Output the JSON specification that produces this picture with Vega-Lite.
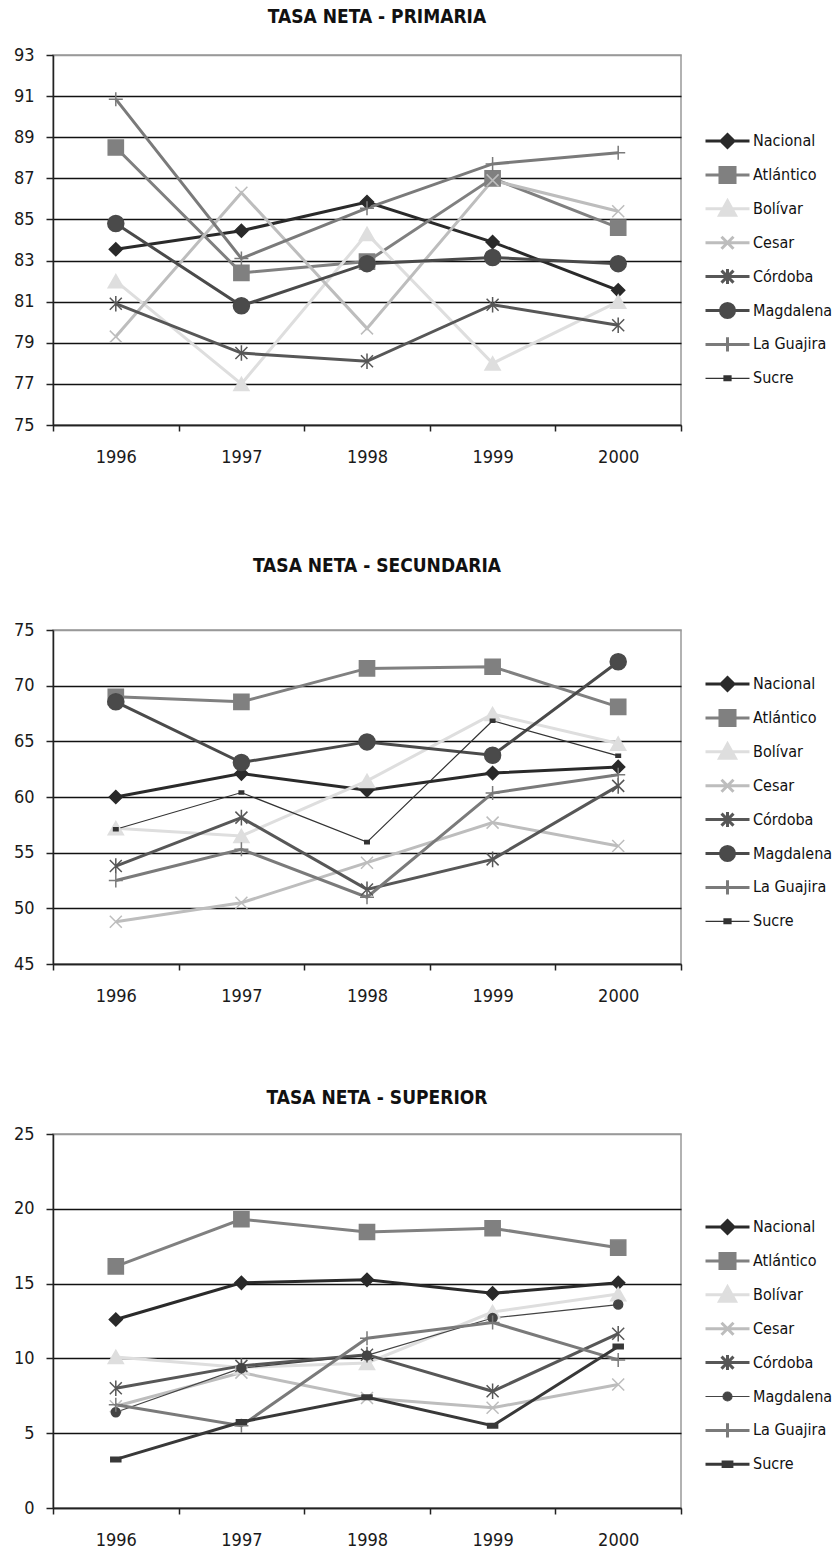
{
  "$schema": "https://vega.github.io/schema/vega-lite/v6.json",
  "background": "white",
  "padding": {"left": 12, "top": 7, "right": 0, "bottom": 0},
  "config": {
    "font": "Liberation Sans Narrow, DejaVu Sans Condensed, sans-serif",
    "view": {"stroke": "#999999", "strokeWidth": 1.5},
    "title": {"font": "Liberation Sans Narrow, DejaVu Sans Condensed, sans-serif", "fontSize": 19, "fontWeight": "bold", "color": "#111111", "anchor": "middle", "dx": 10},
    "axis": {"labelFont": "Liberation Sans Narrow, DejaVu Sans Condensed, sans-serif", "labelFontSize": 18, "labelColor": "#1a1a1a", "domainColor": "#222222", "domainWidth": 1.5, "tickColor": "#222222", "tickWidth": 1.5, "title": null},
    "axisX": {"grid": false, "tickSize": 6, "labelPadding": 17, "labelAngle": 0, "tickBand": "extent"},
    "axisY": {"tickSize": 7, "labelPadding": 12, "gridWidth": 1.3},
    "legend": {"padding": 0, "labelFont": "Liberation Sans Narrow, DejaVu Sans Condensed, sans-serif", "labelFontSize": 16, "labelColor": "#111111", "symbolSize": 256, "symbolOpacity": 1, "labelOffset": 30, "rowPadding": 11.9, "clipHeight": 22}
  },
  "datasets": {
    "primaria": [
      {"serie": "Nacional", "anio": "1996", "valor": 83.55}, {"serie": "Nacional", "anio": "1997", "valor": 84.45}, {"serie": "Nacional", "anio": "1998", "valor": 85.85}, {"serie": "Nacional", "anio": "1999", "valor": 83.9}, {"serie": "Nacional", "anio": "2000", "valor": 81.55},
      {"serie": "Atlántico", "anio": "1996", "valor": 88.5}, {"serie": "Atlántico", "anio": "1997", "valor": 82.4}, {"serie": "Atlántico", "anio": "1998", "valor": 82.95}, {"serie": "Atlántico", "anio": "1999", "valor": 87.0}, {"serie": "Atlántico", "anio": "2000", "valor": 84.6},
      {"serie": "Bolívar", "anio": "1996", "valor": 82.0}, {"serie": "Bolívar", "anio": "1997", "valor": 77.0}, {"serie": "Bolívar", "anio": "1998", "valor": 84.3}, {"serie": "Bolívar", "anio": "1999", "valor": 78.0}, {"serie": "Bolívar", "anio": "2000", "valor": 81.0},
      {"serie": "Cesar", "anio": "1996", "valor": 79.3}, {"serie": "Cesar", "anio": "1997", "valor": 86.3}, {"serie": "Cesar", "anio": "1998", "valor": 79.7}, {"serie": "Cesar", "anio": "1999", "valor": 86.9}, {"serie": "Cesar", "anio": "2000", "valor": 85.4},
      {"serie": "Córdoba", "anio": "1996", "valor": 80.9}, {"serie": "Córdoba", "anio": "1997", "valor": 78.5}, {"serie": "Córdoba", "anio": "1998", "valor": 78.1}, {"serie": "Córdoba", "anio": "1999", "valor": 80.85}, {"serie": "Córdoba", "anio": "2000", "valor": 79.85},
      {"serie": "Magdalena", "anio": "1996", "valor": 84.8}, {"serie": "Magdalena", "anio": "1997", "valor": 80.8}, {"serie": "Magdalena", "anio": "1998", "valor": 82.85}, {"serie": "Magdalena", "anio": "1999", "valor": 83.15}, {"serie": "Magdalena", "anio": "2000", "valor": 82.85},
      {"serie": "La Guajira", "anio": "1996", "valor": 90.85}, {"serie": "La Guajira", "anio": "1997", "valor": 83.1}, {"serie": "La Guajira", "anio": "1998", "valor": 85.55}, {"serie": "La Guajira", "anio": "1999", "valor": 87.7}, {"serie": "La Guajira", "anio": "2000", "valor": 88.25}
    ],
    "secundaria": [
      {"serie": "Nacional", "anio": "1996", "valor": 60.0}, {"serie": "Nacional", "anio": "1997", "valor": 62.1}, {"serie": "Nacional", "anio": "1998", "valor": 60.6}, {"serie": "Nacional", "anio": "1999", "valor": 62.15}, {"serie": "Nacional", "anio": "2000", "valor": 62.7},
      {"serie": "Atlántico", "anio": "1996", "valor": 69.0}, {"serie": "Atlántico", "anio": "1997", "valor": 68.55}, {"serie": "Atlántico", "anio": "1998", "valor": 71.55}, {"serie": "Atlántico", "anio": "1999", "valor": 71.7}, {"serie": "Atlántico", "anio": "2000", "valor": 68.1},
      {"serie": "Bolívar", "anio": "1996", "valor": 57.2}, {"serie": "Bolívar", "anio": "1997", "valor": 56.5}, {"serie": "Bolívar", "anio": "1998", "valor": 61.45}, {"serie": "Bolívar", "anio": "1999", "valor": 67.45}, {"serie": "Bolívar", "anio": "2000", "valor": 64.8},
      {"serie": "Cesar", "anio": "1996", "valor": 48.8}, {"serie": "Cesar", "anio": "1997", "valor": 50.5}, {"serie": "Cesar", "anio": "1998", "valor": 54.1}, {"serie": "Cesar", "anio": "1999", "valor": 57.7}, {"serie": "Cesar", "anio": "2000", "valor": 55.6},
      {"serie": "Córdoba", "anio": "1996", "valor": 53.8}, {"serie": "Córdoba", "anio": "1997", "valor": 58.15}, {"serie": "Córdoba", "anio": "1998", "valor": 51.7}, {"serie": "Córdoba", "anio": "1999", "valor": 54.4}, {"serie": "Córdoba", "anio": "2000", "valor": 61.0},
      {"serie": "Magdalena", "anio": "1996", "valor": 68.55}, {"serie": "Magdalena", "anio": "1997", "valor": 63.1}, {"serie": "Magdalena", "anio": "1998", "valor": 64.95}, {"serie": "Magdalena", "anio": "1999", "valor": 63.75}, {"serie": "Magdalena", "anio": "2000", "valor": 72.15},
      {"serie": "La Guajira", "anio": "1996", "valor": 52.5}, {"serie": "La Guajira", "anio": "1997", "valor": 55.3}, {"serie": "La Guajira", "anio": "1998", "valor": 51.0}, {"serie": "La Guajira", "anio": "1999", "valor": 60.35}, {"serie": "La Guajira", "anio": "2000", "valor": 62.0},
      {"serie": "Sucre", "anio": "1996", "valor": 57.1}, {"serie": "Sucre", "anio": "1997", "valor": 60.4}, {"serie": "Sucre", "anio": "1998", "valor": 55.95}, {"serie": "Sucre", "anio": "1999", "valor": 66.85}, {"serie": "Sucre", "anio": "2000", "valor": 63.7}
    ],
    "superior": [
      {"serie": "Nacional", "anio": "1996", "valor": 12.6}, {"serie": "Nacional", "anio": "1997", "valor": 15.05}, {"serie": "Nacional", "anio": "1998", "valor": 15.25}, {"serie": "Nacional", "anio": "1999", "valor": 14.35}, {"serie": "Nacional", "anio": "2000", "valor": 15.05},
      {"serie": "Atlántico", "anio": "1996", "valor": 16.15}, {"serie": "Atlántico", "anio": "1997", "valor": 19.3}, {"serie": "Atlántico", "anio": "1998", "valor": 18.45}, {"serie": "Atlántico", "anio": "1999", "valor": 18.7}, {"serie": "Atlántico", "anio": "2000", "valor": 17.4},
      {"serie": "Bolívar", "anio": "1996", "valor": 10.1}, {"serie": "Bolívar", "anio": "1997", "valor": 9.4}, {"serie": "Bolívar", "anio": "1998", "valor": 9.7}, {"serie": "Bolívar", "anio": "1999", "valor": 13.1}, {"serie": "Bolívar", "anio": "2000", "valor": 14.3},
      {"serie": "Cesar", "anio": "1996", "valor": 6.8}, {"serie": "Cesar", "anio": "1997", "valor": 9.05}, {"serie": "Cesar", "anio": "1998", "valor": 7.35}, {"serie": "Cesar", "anio": "1999", "valor": 6.7}, {"serie": "Cesar", "anio": "2000", "valor": 8.25},
      {"serie": "Córdoba", "anio": "1996", "valor": 8.0}, {"serie": "Córdoba", "anio": "1997", "valor": 9.5}, {"serie": "Córdoba", "anio": "1998", "valor": 10.25}, {"serie": "Córdoba", "anio": "1999", "valor": 7.8}, {"serie": "Córdoba", "anio": "2000", "valor": 11.65},
      {"serie": "Magdalena", "anio": "1996", "valor": 6.4}, {"serie": "Magdalena", "anio": "1997", "valor": 9.35}, {"serie": "Magdalena", "anio": "1998", "valor": 10.2}, {"serie": "Magdalena", "anio": "1999", "valor": 12.7}, {"serie": "Magdalena", "anio": "2000", "valor": 13.6},
      {"serie": "La Guajira", "anio": "1996", "valor": 6.9}, {"serie": "La Guajira", "anio": "1997", "valor": 5.5}, {"serie": "La Guajira", "anio": "1998", "valor": 11.35}, {"serie": "La Guajira", "anio": "1999", "valor": 12.4}, {"serie": "La Guajira", "anio": "2000", "valor": 9.9},
      {"serie": "Sucre", "anio": "1996", "valor": 3.25}, {"serie": "Sucre", "anio": "1997", "valor": 5.75}, {"serie": "Sucre", "anio": "1998", "valor": 7.4}, {"serie": "Sucre", "anio": "1999", "valor": 5.5}, {"serie": "Sucre", "anio": "2000", "valor": 10.8}
    ]
  },
  "spacing": 82,
  "resolve": {"scale": {"color": "independent", "shape": "independent", "size": "independent", "stroke": "independent", "strokeWidth": "independent", "x": "independent", "y": "independent"}, "legend": {"color": "independent", "shape": "independent", "size": "independent", "stroke": "independent", "strokeWidth": "independent"}},
  "vconcat": [
    {
      "spacing": 89,
      "resolve": {"scale": {"color": "independent", "shape": "independent", "size": "independent", "stroke": "independent", "strokeWidth": "independent", "x": "independent", "y": "independent"}, "legend": {"color": "independent", "shape": "independent", "size": "independent", "stroke": "independent", "strokeWidth": "independent"}},
      "vconcat": [
        {
          "title": {"text": "TASA NETA - PRIMARIA", "offset": 19},
          "width": 628, "height": 370,
          "data": {"name": "primaria"},
          "resolve": {"scale": {"color": "independent", "shape": "independent", "size": "independent", "stroke": "independent", "strokeWidth": "independent"}},
          "encoding": {
            "x": {"field": "anio", "type": "ordinal", "bandPosition": 0.5, "scale": {"type": "band", "paddingInner": 0, "paddingOuter": 0, "domain": ["1996", "1997", "1998", "1999", "2000"]}},
            "y": {"field": "valor", "type": "quantitative", "scale": {"domain": [75, 93], "nice": false, "zero": false}, "axis": {"values": [75, 77, 79, 81, 83, 85, 87, 89, 91, 93], "gridColor": {"condition": {"test": "datum.value === 93", "value": "#999999"}, "value": "#111111"}}}
          },
          "layer": [
            {"mark": {"type": "line"}, "encoding": {
              "color": {"field": "serie", "type": "nominal", "legend": null, "scale": {"domain": ["Nacional", "Atlántico", "Bolívar", "Cesar", "Córdoba", "Magdalena", "La Guajira", "Sucre"], "range": ["#2a2a2a", "#808080", "#dedede", "#bdbdbd", "#575757", "#4a4a4a", "#7a7a7a", "#333333"]}},
              "strokeWidth": {"field": "serie", "type": "nominal", "legend": null, "scale": {"type": "ordinal", "domain": ["Nacional", "Atlántico", "Bolívar", "Cesar", "Córdoba", "Magdalena", "La Guajira", "Sucre"], "range": [3, 3, 3, 3, 3, 3, 3, 1.2]}}}},
            {"mark": {"type": "point", "filled": true, "opacity": 1, "strokeWidth": 1.5},
             "encoding": {
               "color": {"field": "serie", "type": "nominal", "legend": null, "scale": {"domain": ["Nacional", "Atlántico", "Bolívar", "Cesar", "Córdoba", "Magdalena", "La Guajira", "Sucre"], "range": ["#2a2a2a", "#808080", "#dedede", "#bdbdbd", "#575757", "#4a4a4a", "#7a7a7a", "#333333"]}},
               "stroke": {"field": "serie", "type": "nominal", "legend": null, "scale": {"domain": ["Nacional", "Atlántico", "Bolívar", "Cesar", "Córdoba", "Magdalena", "La Guajira", "Sucre"], "range": ["#2a2a2a", "#808080", "#dedede", "#bdbdbd", "#575757", "#4a4a4a", "#7a7a7a", "#333333"]}},
               "size": {"field": "serie", "type": "nominal", "legend": null, "scale": {"type": "ordinal", "domain": ["Nacional", "Atlántico", "Bolívar", "Cesar", "Córdoba", "Magdalena", "La Guajira", "Sucre"], "range": [170, 230, 230, 144, 144, 256, 196, 20]}},
               "shape": {"field": "serie", "type": "nominal", "legend": null,
                 "scale": {"domain": ["Nacional", "Atlántico", "Bolívar", "Cesar", "Córdoba", "Magdalena", "La Guajira", "Sucre"], "range": ["diamond", "square", "triangle-up", "M-1,-1L1,1M-1,1L1,-1", "M-1,-1L1,1M-1,1L1,-1M0,-1.3V1.3", "circle", "M-1,0H1M0,-1V1", "M-1,-0.7H1V0.7H-1Z"]}}
             }
            },
            {"mark": {"type": "point", "filled": true, "opacity": 0},
             "encoding": {
               "color": {"field": "serie", "type": "nominal", "legend": {"title": null}, "scale": {"domain": ["Nacional", "Atlántico", "Bolívar", "Cesar", "Córdoba", "Magdalena", "La Guajira", "Sucre"], "range": ["#2a2a2a", "#808080", "#dedede", "transparent", "transparent", "#4a4a4a", "transparent", "#333333"]}},
               "stroke": {"field": "serie", "type": "nominal", "legend": {"title": null}, "scale": {"domain": ["Nacional", "Atlántico", "Bolívar", "Cesar", "Córdoba", "Magdalena", "La Guajira", "Sucre"], "range": ["#2a2a2a", "#808080", "#dedede", "#bdbdbd", "#575757", "#4a4a4a", "#7a7a7a", "#333333"]}},
               "strokeWidth": {"field": "serie", "type": "nominal", "legend": {"title": null}, "scale": {"type": "ordinal", "domain": ["Nacional", "Atlántico", "Bolívar", "Cesar", "Córdoba", "Magdalena", "La Guajira", "Sucre"], "range": [3, 3, 3, 3, 3, 3, 3, 1.2]}},
               "shape": {"field": "serie", "type": "nominal",
                 "scale": {"domain": ["Nacional", "Atlántico", "Bolívar", "Cesar", "Córdoba", "Magdalena", "La Guajira", "Sucre"], "range": ["M-1,0H4.5M0.94,0L1.75,-0.81L2.56,0L1.75,0.81Z", "M-1,0H4.5M0.81,-0.94H2.69V0.94H0.81Z", "M-1,0H4.5M1.75,-1L2.75,0.82H0.75Z", "M-1,0H4.5M1,-0.75L2.5,0.75M1,0.75L2.5,-0.75", "M-1,0H4.5M1,-0.75L2.5,0.75M1,0.75L2.5,-0.75M1.75,-0.94V0.94", "M-1,0H4.5M2.63,0A0.88,0.88,0,1,1,0.87,0A0.88,0.88,0,1,1,2.63,0Z", "M-1,0H4.5M1.75,-0.88V0.88", "M-1,0H4.5M1.31,-0.3H2.19V0.3H1.31Z"]},
                 "legend": {"orient": "none", "legendX": 651, "legendY": 75, "title": null}}
             }
            }
          ]
        },
        {
          "title": {"text": "TASA NETA - SECUNDARIA", "offset": 45},
          "width": 628, "height": 334,
          "data": {"name": "secundaria"},
          "resolve": {"scale": {"color": "independent", "shape": "independent", "size": "independent", "stroke": "independent", "strokeWidth": "independent"}},
          "encoding": {
            "x": {"field": "anio", "type": "ordinal", "bandPosition": 0.5, "scale": {"type": "band", "paddingInner": 0, "paddingOuter": 0, "domain": ["1996", "1997", "1998", "1999", "2000"]}},
            "y": {"field": "valor", "type": "quantitative", "scale": {"domain": [45, 75], "nice": false, "zero": false}, "axis": {"values": [45, 50, 55, 60, 65, 70, 75], "gridColor": {"condition": {"test": "datum.value === 75", "value": "#999999"}, "value": "#111111"}}}
          },
          "layer": [
            {"mark": {"type": "line"}, "encoding": {
              "color": {"field": "serie", "type": "nominal", "legend": null, "scale": {"domain": ["Nacional", "Atlántico", "Bolívar", "Cesar", "Córdoba", "Magdalena", "La Guajira", "Sucre"], "range": ["#2a2a2a", "#808080", "#dedede", "#bdbdbd", "#575757", "#4a4a4a", "#7a7a7a", "#333333"]}},
              "strokeWidth": {"field": "serie", "type": "nominal", "legend": null, "scale": {"type": "ordinal", "domain": ["Nacional", "Atlántico", "Bolívar", "Cesar", "Córdoba", "Magdalena", "La Guajira", "Sucre"], "range": [3, 3, 3, 3, 3, 3, 3, 1.2]}}}},
            {"mark": {"type": "point", "filled": true, "opacity": 1, "strokeWidth": 1.5},
             "encoding": {
               "color": {"field": "serie", "type": "nominal", "legend": null, "scale": {"domain": ["Nacional", "Atlántico", "Bolívar", "Cesar", "Córdoba", "Magdalena", "La Guajira", "Sucre"], "range": ["#2a2a2a", "#808080", "#dedede", "#bdbdbd", "#575757", "#4a4a4a", "#7a7a7a", "#333333"]}},
               "stroke": {"field": "serie", "type": "nominal", "legend": null, "scale": {"domain": ["Nacional", "Atlántico", "Bolívar", "Cesar", "Córdoba", "Magdalena", "La Guajira", "Sucre"], "range": ["#2a2a2a", "#808080", "#dedede", "#bdbdbd", "#575757", "#4a4a4a", "#7a7a7a", "#333333"]}},
               "size": {"field": "serie", "type": "nominal", "legend": null, "scale": {"type": "ordinal", "domain": ["Nacional", "Atlántico", "Bolívar", "Cesar", "Córdoba", "Magdalena", "La Guajira", "Sucre"], "range": [170, 230, 230, 144, 144, 256, 196, 20]}},
               "shape": {"field": "serie", "type": "nominal", "legend": null,
                 "scale": {"domain": ["Nacional", "Atlántico", "Bolívar", "Cesar", "Córdoba", "Magdalena", "La Guajira", "Sucre"], "range": ["diamond", "square", "triangle-up", "M-1,-1L1,1M-1,1L1,-1", "M-1,-1L1,1M-1,1L1,-1M0,-1.3V1.3", "circle", "M-1,0H1M0,-1V1", "M-1,-0.7H1V0.7H-1Z"]}}
             }
            },
            {"mark": {"type": "point", "filled": true, "opacity": 0},
             "encoding": {
               "color": {"field": "serie", "type": "nominal", "legend": {"title": null}, "scale": {"domain": ["Nacional", "Atlántico", "Bolívar", "Cesar", "Córdoba", "Magdalena", "La Guajira", "Sucre"], "range": ["#2a2a2a", "#808080", "#dedede", "transparent", "transparent", "#4a4a4a", "transparent", "#333333"]}},
               "stroke": {"field": "serie", "type": "nominal", "legend": {"title": null}, "scale": {"domain": ["Nacional", "Atlántico", "Bolívar", "Cesar", "Córdoba", "Magdalena", "La Guajira", "Sucre"], "range": ["#2a2a2a", "#808080", "#dedede", "#bdbdbd", "#575757", "#4a4a4a", "#7a7a7a", "#333333"]}},
               "strokeWidth": {"field": "serie", "type": "nominal", "legend": {"title": null}, "scale": {"type": "ordinal", "domain": ["Nacional", "Atlántico", "Bolívar", "Cesar", "Córdoba", "Magdalena", "La Guajira", "Sucre"], "range": [3, 3, 3, 3, 3, 3, 3, 1.2]}},
               "shape": {"field": "serie", "type": "nominal",
                 "scale": {"domain": ["Nacional", "Atlántico", "Bolívar", "Cesar", "Córdoba", "Magdalena", "La Guajira", "Sucre"], "range": ["M-1,0H4.5M0.94,0L1.75,-0.81L2.56,0L1.75,0.81Z", "M-1,0H4.5M0.81,-0.94H2.69V0.94H0.81Z", "M-1,0H4.5M1.75,-1L2.75,0.82H0.75Z", "M-1,0H4.5M1,-0.75L2.5,0.75M1,0.75L2.5,-0.75", "M-1,0H4.5M1,-0.75L2.5,0.75M1,0.75L2.5,-0.75M1.75,-0.94V0.94", "M-1,0H4.5M2.63,0A0.88,0.88,0,1,1,0.87,0A0.88,0.88,0,1,1,2.63,0Z", "M-1,0H4.5M1.75,-0.88V0.88", "M-1,0H4.5M1.31,-0.3H2.19V0.3H1.31Z"]},
                 "legend": {"orient": "none", "legendX": 651, "legendY": 43, "title": null}}
             }
            }
          ]
        }
      ]
    },
    {
      "title": {"text": "TASA NETA - SUPERIOR", "offset": 17},
      "width": 628, "height": 374,
      "data": {"name": "superior"},
      "resolve": {"scale": {"color": "independent", "shape": "independent", "size": "independent", "stroke": "independent", "strokeWidth": "independent"}},
      "encoding": {
        "x": {"field": "anio", "type": "ordinal", "bandPosition": 0.5, "scale": {"type": "band", "paddingInner": 0, "paddingOuter": 0, "domain": ["1996", "1997", "1998", "1999", "2000"]}},
        "y": {"field": "valor", "type": "quantitative", "scale": {"domain": [0, 25], "nice": false}, "axis": {"values": [0, 5, 10, 15, 20, 25], "gridColor": {"condition": {"test": "datum.value === 25", "value": "#999999"}, "value": "#111111"}}}
      },
      "layer": [
        {"mark": {"type": "line"}, "encoding": {
          "color": {"field": "serie", "type": "nominal", "legend": null, "scale": {"domain": ["Nacional", "Atlántico", "Bolívar", "Cesar", "Córdoba", "Magdalena", "La Guajira", "Sucre"], "range": ["#2a2a2a", "#808080", "#dedede", "#bdbdbd", "#575757", "#444444", "#7a7a7a", "#383838"]}},
          "strokeWidth": {"field": "serie", "type": "nominal", "legend": null, "scale": {"type": "ordinal", "domain": ["Nacional", "Atlántico", "Bolívar", "Cesar", "Córdoba", "Magdalena", "La Guajira", "Sucre"], "range": [3, 3, 3, 3, 3, 1.2, 3, 3]}}}},
        {"mark": {"type": "point", "filled": true, "opacity": 1, "strokeWidth": 1.5},
         "encoding": {
           "color": {"field": "serie", "type": "nominal", "legend": null, "scale": {"domain": ["Nacional", "Atlántico", "Bolívar", "Cesar", "Córdoba", "Magdalena", "La Guajira", "Sucre"], "range": ["#2a2a2a", "#808080", "#dedede", "#bdbdbd", "#575757", "#444444", "#7a7a7a", "#383838"]}},
           "stroke": {"field": "serie", "type": "nominal", "legend": null, "scale": {"domain": ["Nacional", "Atlántico", "Bolívar", "Cesar", "Córdoba", "Magdalena", "La Guajira", "Sucre"], "range": ["#2a2a2a", "#808080", "#dedede", "#bdbdbd", "#575757", "#444444", "#7a7a7a", "#383838"]}},
           "size": {"field": "serie", "type": "nominal", "legend": null, "scale": {"type": "ordinal", "domain": ["Nacional", "Atlántico", "Bolívar", "Cesar", "Córdoba", "Magdalena", "La Guajira", "Sucre"], "range": [170, 230, 230, 144, 144, 80, 196, 100]}},
           "shape": {"field": "serie", "type": "nominal", "legend": null,
             "scale": {"domain": ["Nacional", "Atlántico", "Bolívar", "Cesar", "Córdoba", "Magdalena", "La Guajira", "Sucre"], "range": ["diamond", "square", "triangle-up", "M-1,-1L1,1M-1,1L1,-1", "M-1,-1L1,1M-1,1L1,-1M0,-1.3V1.3", "circle", "M-1,0H1M0,-1V1", "M-1,-0.45H1V0.45H-1Z"]}}
         }
        },
        {"mark": {"type": "point", "filled": true, "opacity": 0},
         "encoding": {
           "color": {"field": "serie", "type": "nominal", "legend": {"title": null}, "scale": {"domain": ["Nacional", "Atlántico", "Bolívar", "Cesar", "Córdoba", "Magdalena", "La Guajira", "Sucre"], "range": ["#2a2a2a", "#808080", "#dedede", "transparent", "transparent", "#444444", "transparent", "#383838"]}},
           "stroke": {"field": "serie", "type": "nominal", "legend": {"title": null}, "scale": {"domain": ["Nacional", "Atlántico", "Bolívar", "Cesar", "Córdoba", "Magdalena", "La Guajira", "Sucre"], "range": ["#2a2a2a", "#808080", "#dedede", "#bdbdbd", "#575757", "#444444", "#7a7a7a", "#383838"]}},
           "strokeWidth": {"field": "serie", "type": "nominal", "legend": {"title": null}, "scale": {"type": "ordinal", "domain": ["Nacional", "Atlántico", "Bolívar", "Cesar", "Córdoba", "Magdalena", "La Guajira", "Sucre"], "range": [3, 3, 3, 3, 3, 1.2, 3, 3]}},
           "shape": {"field": "serie", "type": "nominal",
             "scale": {"domain": ["Nacional", "Atlántico", "Bolívar", "Cesar", "Córdoba", "Magdalena", "La Guajira", "Sucre"], "range": ["M-1,0H4.5M0.94,0L1.75,-0.81L2.56,0L1.75,0.81Z", "M-1,0H4.5M0.81,-0.94H2.69V0.94H0.81Z", "M-1,0H4.5M1.75,-1L2.75,0.82H0.75Z", "M-1,0H4.5M1,-0.75L2.5,0.75M1,0.75L2.5,-0.75", "M-1,0H4.5M1,-0.75L2.5,0.75M1,0.75L2.5,-0.75M1.75,-0.94V0.94", "M-1,0H4.5M2.31,0A0.56,0.56,0,1,1,1.19,0A0.56,0.56,0,1,1,2.31,0Z", "M-1,0H4.5M1.75,-0.88V0.88", "M-1,0H4.5M1.2,-0.28H2.3V0.28H1.2Z"]},
             "legend": {"orient": "none", "legendX": 651, "legendY": 82, "title": null}}
         }
        }
      ]
    }
  ]
}
